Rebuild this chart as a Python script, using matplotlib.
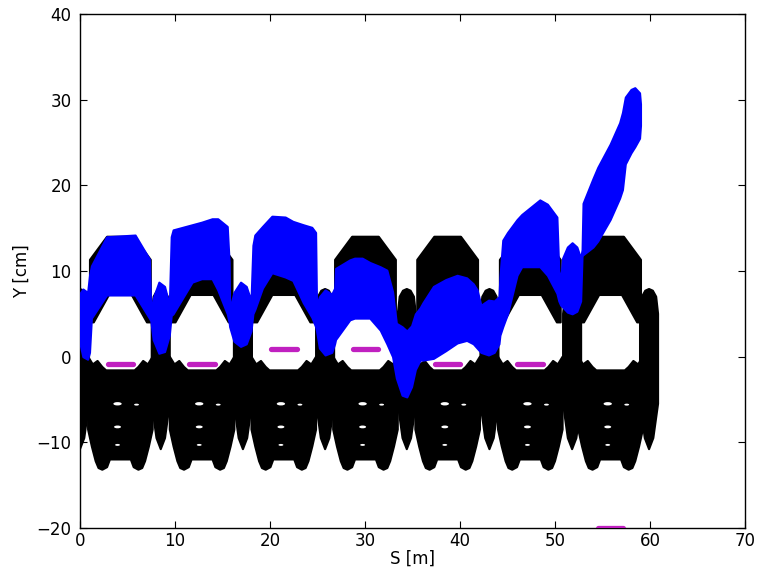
import numpy as np
import matplotlib
matplotlib.use("Agg")
import matplotlib.pyplot as plt
from matplotlib.path import Path
from matplotlib.transforms import Affine2D

# ---------------- data ----------------
# lattice cells (centre positions) and junctions between cells [m]
cell_centers = [4.25, 12.85, 21.45, 30.05, 38.7, 47.4, 55.85]
junctions = [0.0, 8.5, 17.15, 25.8, 34.4, 43.1, 51.8, 59.9]

# black lower aperture body of one cell (u = S - centre [m], Y [cm])
body_u = [-3.4, -2.9, -2.4, -1.9, -1.5, 1.5, 1.9, 2.4, 2.9, 3.4,
          3.4, 3.0, 2.6, 2.3, 1.9, 1.4, 1.1, -1.1, -1.4, -1.9, -2.3, -2.6, -3.0, -3.4]
body_y = [0.0, -0.9, -0.5, -1.2, -1.6, -1.6, -1.2, -0.5, -0.9, 0.0,
          -8.5, -10.5, -12.2, -13.0, -13.2, -12.9, -12.0, -12.0, -12.9, -13.2, -13.0, -12.2, -10.5, -8.5]

# black upper arch of one cell
arch_u = [-3.2, -3.2, -1.4, 1.4, 3.2, 3.2, 2.8, 1.2, -1.2, -2.8]
arch_y = [4.0, 11.3, 14.0, 14.0, 11.3, 4.0, 4.0, 7.2, 7.2, 4.0]

# black lobe at each junction (v = S - junction)
lobe_v = [-0.45, -0.95, -0.95, -0.75, -0.4, 0.0, 0.4, 0.75, 0.95, 0.95, 0.45, 0.0]
lobe_y = [-9.5, -5.5, 5.0, 7.0, 7.7, 7.9, 7.7, 7.0, 5.0, -5.5, -9.5, -10.8]

# white gaps inside the lower bodies
gap_u = [-0.3, -0.3, -0.3, 1.7]
gap_y = [-5.5, -8.2, -10.3, -5.6]
gap_w = [6, 5, 3.5, 3.5]

# magenta markers
mag_s0 = [2.9, 11.5, 20.1, 28.7, 37.35, 46.05, 54.5]
mag_s1 = [5.6, 14.2, 22.8, 31.4, 40.05, 48.75, 57.2]
mag_y = [-0.9, -0.9, 0.9, 0.9, -0.9, -0.9, -20.0]

# blue beam envelope
blue_s = [0.0, 0.3, 0.8, 1.0, 1.2, 2.8, 5.8, 7.3, 7.45, 7.7, 8.3, 8.9, 9.4, 9.6, 9.8,
          11.8, 12.8, 13.9, 14.5, 15.5, 15.7, 15.75, 16.2, 16.9, 17.5, 18.0, 18.2, 18.4,
          19.2, 20.2, 21.6, 22.4, 23.5, 24.4, 24.8, 24.9, 25.2, 25.8, 26.5, 26.8, 26.9,
          28.4, 28.9, 29.7, 30.5, 31.6, 32.3, 32.9, 33.3, 33.9, 34.4, 34.9, 35.3, 35.8,
          36.1, 37.2, 38.5, 39.7, 40.7, 41.4, 41.8, 42.2, 43.0, 43.6, 44.1, 44.2, 44.5,
          45.0, 46.0, 46.5, 48.4, 49.2, 50.2, 50.4, 50.6, 50.8, 51.3, 51.8, 52.3, 52.7,
          52.85, 52.95, 54.0, 54.5, 55.8, 56.8, 57.1, 57.4, 58.0, 58.4, 58.9, 59.0]
blue_lo = [1.5, 0.0, -0.3, 0.5, 4.5, 7.2, 7.2, 4.5, 4.2, 2.0, 0.4, 0.6, 2.5, 4.8, 5.0,
           8.7, 9.1, 9.1, 7.8, 5.0, 4.0, 3.5, 1.8, 1.2, 1.5, 3.0, 5.0, 5.5,
           8.0, 9.8, 9.3, 8.9, 6.3, 4.6, 3.5, 3.0, 1.0, 0.2, 0.5, 1.5, 2.0,
           4.3, 4.5, 4.5, 4.5, 3.1, 1.5, 0.0, -2.5, -4.5, -4.7, -3.5, -1.5, -0.4,
           -0.4, -0.2, 0.7, 1.6, 1.9, 1.5, 1.0, 0.5, 0.2, 0.5, 1.5, 2.5, 3.5,
           5.0, 9.5, 10.5, 10.5, 9.5, 7.4, 6.5, 6.0, 5.8, 5.2, 5.0, 5.3, 6.5,
           11.9, 11.9, 12.8, 13.5, 16.0, 18.5, 19.5, 22.5, 23.8, 24.5, 25.5, 27.0]
blue_hi = [7.4, 7.9, 7.5, 9.5, 10.6, 14.0, 14.2, 11.4, 5.2, 6.8, 8.7, 8.2, 6.0, 14.0, 14.8,
           15.4, 15.7, 16.1, 16.1, 15.2, 11.0, 5.5, 7.5, 8.7, 8.2, 6.5, 13.0, 14.2,
           15.2, 16.4, 16.3, 15.8, 15.4, 15.1, 14.5, 6.0, 7.0, 7.8, 7.3, 8.0, 10.3,
           11.3, 11.5, 11.5, 11.0, 10.5, 10.1, 7.6, 3.9, 3.5, 3.0, 3.6, 5.0, 5.7,
           6.3, 8.2, 9.0, 9.5, 9.2, 8.5, 7.8, 6.0, 6.6, 6.5, 7.0, 9.3, 13.6,
           14.5, 16.0, 16.6, 18.3, 17.8, 16.3, 10.0, 9.0, 11.5, 12.8, 13.3, 12.8, 11.5,
           12.5, 17.9, 20.8, 22.1, 24.8, 27.3, 28.5, 30.3, 31.2, 31.4, 30.8, 29.5]

x_ticks = [0, 10, 20, 30, 40, 50, 60, 70]
y_ticks = [-20, -10, 0, 10, 20, 30, 40]

# ---------------- plot ----------------
W, H = 757, 572
fig = plt.figure(figsize=(W / 100, H / 100), dpi=100)
ax = fig.add_axes([80 / W, 44 / H, 665 / W, 514 / H])

for c in cell_centers:
    ax.fill(np.add(body_u, c), body_y, facecolor='black', edgecolor='black',
            lw=1.5, joinstyle='round', zorder=1)
    ax.fill(np.add(arch_u, c), arch_y, facecolor='black', edgecolor='black',
            lw=1.5, joinstyle='round', zorder=1)
for j in junctions:
    ax.fill(np.add(lobe_v, j), lobe_y, facecolor='black', edgecolor='black',
            lw=1.5, joinstyle='round', zorder=1)

ell = Path.unit_circle().transformed(Affine2D().scale(1.0, 0.4))
for c in cell_centers:
    ax.scatter(np.add(gap_u, c), gap_y, s=np.square(gap_w), marker=ell,
               color='white', lw=0, zorder=2)

ax.fill_between(blue_s, blue_lo, blue_hi, facecolor='#0000ff', edgecolor='#0000ff',
                lw=1.5, joinstyle='round', zorder=3)

for s0, s1, y in zip(mag_s0, mag_s1, mag_y):
    ax.plot([s0, s1], [y, y], color='#c020c0', lw=3.8, solid_capstyle='round', zorder=4)

ax.set_xlim(0, 70)
ax.set_ylim(-20, 40)
ax.set_xticks(x_ticks)
ax.set_yticks(y_ticks)
ax.tick_params(direction='in', length=5, width=0.8, top=True, right=True,
               labelsize=12)
ax.tick_params(axis='x', pad=3)
ax.tick_params(axis='y', pad=6)
ax.set_xlabel('S [m]', fontsize=12, labelpad=0)
ax.set_ylabel('Y [cm]', fontsize=12, labelpad=4)
for sp in ax.spines.values():
    sp.set_linewidth(1.0)

fig.savefig('out.png', dpi=100)
